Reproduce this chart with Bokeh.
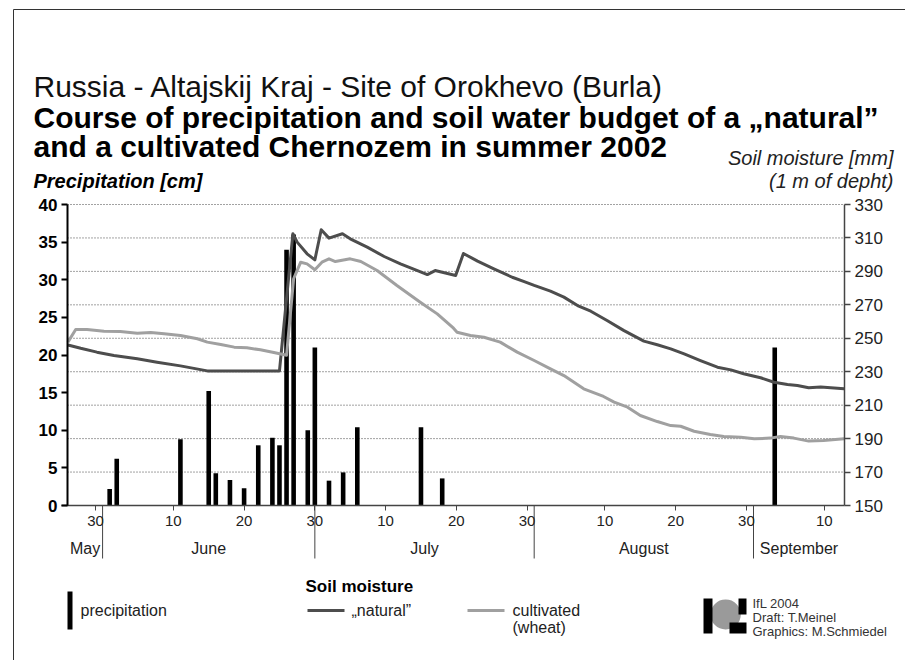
from bokeh.plotting import figure
from bokeh.models import (Range1d, LinearAxis, FixedTicker, Label, Arrow,
                          BoxAnnotation)
from bokeh.core.properties import value
from bokeh.embed import file_html
from bokeh.resources import INLINE

# ---------------- data ----------------
# day of year 2002 (150 = 30 May)
precip_day = [152, 153, 162, 166, 167, 169, 171, 173, 175, 176, 177, 178,
              180, 181, 183, 185, 187, 196, 199, 246]
precip_cm = [2.2, 6.2, 8.8, 15.2, 4.3, 3.4, 2.3, 8.0, 9.0, 8.0, 34.0, 36.0,
             10.0, 21.0, 3.3, 4.4, 10.4, 10.4, 3.6, 21.0]

natural_day = [146.1, 147.9, 150.2, 152.6, 155.9, 158.7, 162.0, 165.8, 169.5,
               173.3, 176.0, 177.9, 178.5, 179.9, 181.0, 181.9, 183.0, 184.9,
               186.0, 188.4, 190.8, 193.1, 195.5, 196.9, 198.0, 200.9, 202.0,
               204.0, 206.3, 208.9, 210.5, 212.0, 214.3, 216.2, 218.3, 220.0,
               222.3, 224.7, 227.5, 229.4, 231.3, 233.2, 235.5, 237.9, 239.8,
               241.6, 244.0, 245.9, 247.8, 249.2, 250.8, 252.5, 254.4, 255.8]
natural_mm = [246.0, 244.0, 241.7, 239.7, 237.7, 235.7, 233.5, 230.5, 230.5,
              230.5, 230.5, 312.5, 307.5, 300.5, 296.9, 314.9, 309.9, 312.5,
              309.5, 304.5, 298.9, 294.5, 290.5, 288.1, 290.5, 287.5, 300.7,
              296.1, 291.5, 286.5, 284.0, 281.6, 278.2, 274.6, 269.2, 266.2,
              260.6, 254.6, 248.3, 246.1, 243.7, 240.7, 236.7, 232.7, 231.1,
              228.8, 226.4, 223.7, 222.4, 221.8, 220.4, 220.8, 220.2, 219.8]

cultivated_day = [146.1, 147.2, 148.8, 151.2, 153.5, 155.9, 157.8, 159.7, 162.0,
                  164.4, 165.8, 167.7, 169.6, 171.4, 173.3, 175.2, 177.0, 178.0,
                  179.0, 179.9, 181.0, 182.0, 183.0, 183.9, 186.0, 187.5, 189.8,
                  192.6, 195.9, 198.3, 200.6, 201.1, 203.0, 204.9, 207.2, 209.6,
                  212.0, 214.3, 216.2, 219.0, 221.8, 223.3, 225.2, 227.0, 229.4,
                  231.3, 232.7, 234.6, 236.9, 238.8, 241.2, 243.1, 245.4, 246.8,
                  248.7, 250.8, 252.9, 255.8]
cultivated_mm = [247.7, 255.2, 255.2, 254.2, 254.0, 253.0, 253.5, 252.7, 251.7,
                 249.7, 247.7, 246.3, 244.7, 244.3, 243.1, 241.5, 239.9, 285.6,
                 295.5, 294.5, 291.0, 295.5, 297.5, 295.9, 297.5, 295.9, 290.5,
                 281.6, 271.6, 264.6, 256.0, 253.6, 251.7, 250.6, 247.7, 241.7,
                 236.7, 231.7, 227.7, 219.8, 215.2, 211.8, 208.8, 203.8, 200.2,
                 197.8, 197.4, 194.4, 192.5, 191.3, 190.8, 189.9, 190.3, 191.3,
                 190.3, 188.5, 188.9, 189.9]

tick_days = [150, 161, 171, 181, 191, 201, 211, 222, 232, 242, 253]
tick_labels = ["30", "10", "20", "30", "10", "20", "30", "10", "20", "30", "10"]
month_names = ["May", "June", "July", "August", "September"]
month_end_days = [151, 181, 212, 243]
precip_ticks = [0, 5, 10, 15, 20, 25, 30, 35, 40]
soil_ticks = [150, 170, 190, 210, 230, 250, 270, 290, 310, 330]

# ---------------- geometry ----------------
W, H = 905, 660
PL, PR, PT, PB = 67, 844, 204, 505        # chart area in canvas px
X0, X1 = 146.04, 255.86                    # visible days
P0, P1 = 0, 40                             # precipitation range
S0, S1 = 150, 330                          # soil moisture range
XPP = (X1 - X0) / (PR - PL)
YPP = (P1 - P0) / (PB - PT)
SPP = (S1 - S0) / (PB - PT)

FONT = "Liberation Sans"
NAT_COLOR = "#4d4d4d"
CULT_COLOR = "#a0a0a0"

p = figure(width=W, height=H, min_border=0,
           x_range=Range1d(X0 - PL * XPP, X1 + (W - PR) * XPP),
           y_range=Range1d(P0 - (H - PB) * YPP, P1 + PT * YPP),
           output_backend="svg", toolbar_location=None)
p.extra_y_ranges = {"soil": Range1d(S0 - (H - PB) * SPP, S1 + PT * SPP)}
p.outline_line_color = None
p.background_fill_color = "white"
p.border_fill_color = "white"
p.xgrid.visible = False
p.ygrid.visible = False


def dx(px):
    return X0 + (px - PL) * XPP


def dy(py):
    return (PB - py) * YPP


# dotted grid lines on the soil-moisture ticks
p.segment(x0=X0, x1=X1, y0=soil_ticks[1:], y1=soil_ticks[1:], y_range_name="soil",
          line_color="#444444", line_dash="1 2", line_width=1)

p.vbar(x=precip_day, top=precip_cm, width=0.65, fill_color="black",
       line_color=None)
p.line(natural_day, natural_mm, y_range_name="soil", line_color=NAT_COLOR,
       line_width=3, line_join="round")
p.line(cultivated_day, cultivated_mm, y_range_name="soil", line_color=CULT_COLOR,
       line_width=3, line_join="round")

# left axis
ya = p.yaxis[0]
ya.fixed_location = X0
ya.bounds = (P0, P1)
ya.ticker = FixedTicker(ticks=precip_ticks)
ya.axis_line_color = "black"
ya.axis_line_width = 2
ya.major_tick_line_color = "black"
ya.major_tick_line_width = 2
ya.major_tick_out = 6
ya.major_tick_in = 0
ya.minor_tick_line_color = None
ya.major_label_text_font = FONT
ya.major_label_text_font_style = "bold"
ya.major_label_text_font_size = "17px"
ya.major_label_text_color = "black"
ya.major_label_standoff = 4

# right axis
ra = LinearAxis(y_range_name="soil", ticker=FixedTicker(ticks=soil_ticks),
                fixed_location=X1, bounds=(S0, S1))
ra.axis_line_color = "#444444"
ra.axis_line_width = 1.5
ra.major_tick_line_color = "#444444"
ra.major_tick_line_width = 1.5
ra.major_tick_out = 6
ra.major_tick_in = 0
ra.minor_tick_line_color = None
ra.major_label_text_font = FONT
ra.major_label_text_font_size = "17px"
ra.major_label_text_color = "#222222"
ra.major_label_standoff = 4
p.add_layout(ra, "right")

# bottom axis (days)
xa = p.xaxis[0]
xa.fixed_location = P0
xa.bounds = (dx(61), X1)
xa.ticker = FixedTicker(ticks=tick_days)
xa.major_label_overrides = dict(zip(tick_days, tick_labels))
xa.axis_line_color = "#444444"
xa.axis_line_width = 1.5
xa.major_tick_line_color = "#444444"
xa.major_tick_out = 5
xa.major_tick_in = 0
xa.minor_tick_line_color = None
xa.major_label_text_font = FONT
xa.major_label_text_font_size = "15px"
xa.major_label_text_color = "#222222"
xa.major_label_standoff = 5

# month separators and month names
p.segment(x0=month_end_days, x1=month_end_days, y0=P0, y1=dy(558),
          line_color="#444444", line_width=1)
bounds = [X0] + month_end_days + [X1]
month_centers = [(a + b) / 2 for a, b in zip(bounds[:-1], bounds[1:])]
p.text(x=month_centers, y=dy(548), text=month_names, text_font=value(FONT),
       text_font_size="16px", text_color="#222222", text_align="center",
       text_baseline="middle")


def label(text, px, py, size, style="normal", align="left", color="black"):
    p.add_layout(Label(x=dx(px), y=dy(py), text=text, text_font=FONT,
                       text_font_size=size, text_font_style=style,
                       text_align=align, text_baseline="middle",
                       text_color=color))


label("Russia - Altajskij Kraj - Site of Orokhevo (Burla)", 33, 86, "30px",
      color="#111111")
label("Course of precipitation and soil water budget of a \u201enatural\u201d",
      33, 117, "30px", "bold")
label("and a cultivated Chernozem in summer 2002", 33, 146, "30px", "bold")
label("Soil moisture [mm]", 893, 157, "20px", "italic", "right", "#222222")
label("(1 m of depht)", 893, 180, "20px", "italic", "right", "#222222")
label("Precipitation [cm]", 33, 180, "20px", "bold italic")

# legend
p.add_layout(BoxAnnotation(left=dx(67), right=dx(72), top=dy(591), bottom=dy(629),
                           fill_color="black", fill_alpha=1, line_color=None))
label("precipitation", 80, 610, "16px", color="#222222")
label("Soil moisture", 305, 586, "17px", "bold")
p.add_layout(Arrow(x_start=dx(307), y_start=dy(610), x_end=dx(344), y_end=dy(610),
                   end=None, line_color=NAT_COLOR, line_width=3))
label("\u201enatural\u201d", 351, 610, "16px", color="#222222")
p.add_layout(Arrow(x_start=dx(467), y_start=dy(610), x_end=dx(504), y_end=dy(610),
                   end=None, line_color=CULT_COLOR, line_width=3))
label("cultivated", 512, 610, "16px", color="#222222")
label("(wheat)", 512, 627, "16px", color="#222222")

# logo
p.add_layout(Arrow(x_start=dx(725), y_start=dy(614), x_end=dx(725.3), y_end=dy(614),
                   end=None, line_color="#9a9a9a", line_width=30, line_cap="round"))
p.add_layout(BoxAnnotation(left=dx(703), right=dx(712), top=dy(598), bottom=dy(633),
                           fill_color="black", fill_alpha=1, line_color=None))
p.add_layout(BoxAnnotation(left=dx(738), right=dx(746), top=dy(598), bottom=dy(614),
                           fill_color="black", fill_alpha=1, line_color=None))
p.add_layout(BoxAnnotation(left=dx(729), right=dx(746), top=dy(622), bottom=dy(633),
                           fill_color="black", fill_alpha=1, line_color=None))
label("IfL 2004", 752, 603, "13px", color="#333333")
label("Draft: T.Meinel", 752, 617, "13px", color="#333333")
label("Graphics: M.Schmiedel", 752, 631, "13px", color="#333333")

# page frame
p.add_layout(Arrow(x_start=dx(13), y_start=dy(9), x_end=dx(905), y_end=dy(9),
                   end=None, line_color="#333333", line_width=1))
p.add_layout(Arrow(x_start=dx(13), y_start=dy(9), x_end=dx(13), y_end=dy(660),
                   end=None, line_color="#333333", line_width=1))

open("out.html", "w").write(file_html(p, INLINE))
